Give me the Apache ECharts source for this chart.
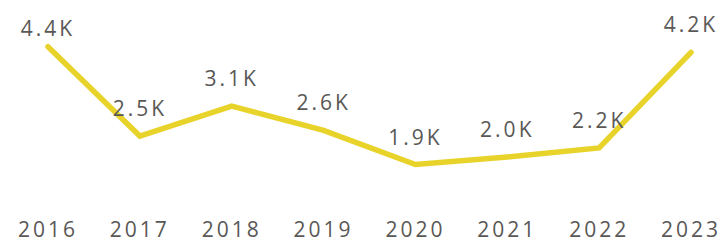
<!DOCTYPE html>
<html><head><meta charset="utf-8">
<script src="https://cdn.jsdelivr.net/npm/echarts@6/dist/echarts.min.js"></script>
<style>
html,body{margin:0;padding:0;background:#fff;}
#c{width:720px;height:240px;}
#c text{letter-spacing:3px;}
</style></head>
<body><div id="c"></div>
<script>
const categories = ['2016','2017','2018','2019','2020','2021','2022','2023'];
const values = [4360, 2480, 3110, 2600, 1880, 2040, 2230, 4240];

const chart = echarts.init(document.getElementById('c'), null, {renderer:'svg'});
const fmt = v => (v/1000).toFixed(1) + 'K';
chart.setOption({
  animation:false,
  grid:{left:48, right:29, top:40, bottom:57.4},
  xAxis:{type:'category', data:categories, boundaryGap:false,
    axisLine:{show:false}, axisTick:{show:false}, splitLine:{show:false},
    axisLabel:{margin:36, color:'#5A5856', fontSize:21, fontFamily:'Open Sans'}},
  yAxis:{type:'value', min:1500, max:4500, show:false, splitLine:{show:false}},
  series:[{type:'line', data:values.map((v,i)=> i===0 ? {value:v, label:{distance:8}} : v),
    symbol:'circle', symbolSize:1, showSymbol:true, itemStyle:{color:'#E8D32B'},
    lineStyle:{color:'#E8D32B', width:5.5, cap:'round', join:'miter'},
    label:{show:true, position:'top', distance:17, color:'#5A5856', fontSize:21, fontFamily:'Open Sans',
      formatter:p=>fmt(p.value)},
    labelLayout:{hideOverlap:false}}]
});
</script></body></html>
